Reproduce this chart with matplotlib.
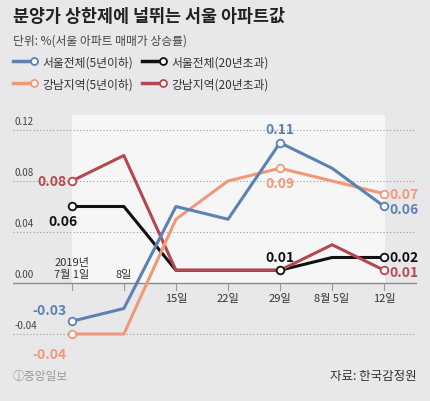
import matplotlib.pyplot as plt

plt.rcParams['font.family'] = ['Noto Sans CJK KR', 'DejaVu Sans']

dates = ["2019년\n7월 1일", "8일", "15일", "22일", "29일", "8월 5일", "12일"]
seoul_new = [-0.03, -0.02, 0.06, 0.05, 0.11, 0.09, 0.06]
seoul_old = [0.06, 0.06, 0.01, 0.01, 0.01, 0.02, 0.02]
gangnam_new = [-0.04, -0.04, 0.05, 0.08, 0.09, 0.08, 0.07]
gangnam_old = [0.08, 0.10, 0.01, 0.01, 0.01, 0.03, 0.01]
yticks = [-0.04, 0.00, 0.04, 0.08, 0.12]

BG = "#e8e8ea"
BLUE, BLACK, ORANGE, RED = "#5b82b0", "#111111", "#f0987a", "#b5474f"

fig = plt.figure(figsize=(4.3, 4.02), dpi=100, facecolor=BG)
ax = fig.add_axes([0.0302, 0.1045, 0.9395, 0.622])
ax.set_facecolor(BG)
x = list(range(len(dates)))
ax.set_xlim(-1.13, 6.63)
ax.set_ylim(-0.0596, 0.1365)
for s in ax.spines.values():
    s.set_visible(False)
ax.set_xticks([])
ax.set_yticks([])

ax.fill_between([0, 6], 0, 0.132, color="#f6f6f7", zorder=0)
for yv in yticks:
    if yv == 0:
        ax.axhline(0, color="#888888", lw=1, zorder=1)
    else:
        ax.axhline(yv, color="#999999", lw=0.8, ls=(0, (1, 2)), zorder=1)
    ax.text(-1.1, yv + 0.003, f"{yv:.2f}", fontsize=7, color="#444444", va="bottom")

for i, d in enumerate(dates):
    ax.plot([i, i], [0, -0.0055], color="#999999", lw=0.8, zorder=1)
    if i < 2:
        ax.text(i, 0.003, d, ha="center", va="bottom", fontsize=8, color="#333333", linespacing=1.3)
    else:
        ax.text(i, -0.008, d, ha="center", va="top", fontsize=8, color="#333333")

series = [(seoul_old, BLACK, [0, 4, 6]), (gangnam_old, RED, [0, 6]),
          (gangnam_new, ORANGE, [0, 4, 6]), (seoul_new, BLUE, [0, 4, 6])]
for vals, c, marks in series:
    ax.plot(x, vals, color=c, lw=2.2, zorder=3)
    ax.plot([x[m] for m in marks], [vals[m] for m in marks], "o", ms=5.5,
            mfc="white", mec=c, mew=1.3, zorder=4, ls="none")

lab = dict(fontsize=10, fontweight="bold")
ax.text(-0.1, seoul_new[0] + 0.006, "-0.03", color=BLUE, ha="right", **lab)
ax.text(-0.1, gangnam_new[0] - 0.01, "-0.04", color=ORANGE, ha="right", va="top", **lab)
ax.text(-0.45, 0.043, "0.06", color=BLACK, va="bottom", **lab)
ax.text(-0.1, gangnam_old[0], "0.08", color=RED, ha="right", va="center", **lab)
ax.text(4, seoul_new[4] + 0.005, "0.11", color=BLUE, ha="center", va="bottom", **lab)
ax.text(4, gangnam_new[4] - 0.006, "0.09", color=ORANGE, ha="center", va="top", **lab)
ax.text(4, seoul_old[4] + 0.005, "0.01", color=BLACK, ha="center", va="bottom", **lab)
ax.text(6.1, gangnam_new[6], "0.07", color=ORANGE, va="center", **lab)
ax.text(6.1, seoul_new[6] - 0.002, "0.06", color=BLUE, va="center", **lab)
ax.text(6.1, seoul_old[6], "0.02", color=BLACK, va="center", **lab)
ax.text(6.1, gangnam_old[6] - 0.001, "0.01", color=RED, va="center", **lab)

fig.text(0.03, 0.945, "분양가 상한제에 널뛰는 서울 아파트값", fontsize=12.5, fontweight="bold", color="#222222")
fig.text(0.03, 0.89, "단위: %(서울 아파트 매매가 상승률)", fontsize=8.5, color="#444444")
legend = [("서울전체(5년이하)", BLUE, 0.03, 0.835), ("서울전체(20년초과)", BLACK, 0.33, 0.835),
          ("강남지역(5년이하)", ORANGE, 0.03, 0.78), ("강남지역(20년초과)", RED, 0.33, 0.78)]
for name, c, lx, ly in legend:
    fig.lines.append(plt.Line2D([lx, lx + 0.045], [ly + 0.012] * 2, color=c, lw=2.5, transform=fig.transFigure))
    fig.lines.append(plt.Line2D([lx + 0.05], [ly + 0.012], marker="o", ms=5, mfc="white", mec=c,
                                mew=1.3, transform=fig.transFigure))
    fig.text(lx + 0.068, ly, name, fontsize=8.5, color="#333333")

fig.text(0.03, 0.055, "ⓙ중앙일보", fontsize=8.5, color="#999999")
fig.text(0.97, 0.055, "자료: 한국감정원", fontsize=9, color="#333333", ha="right")

fig.savefig("out.png", dpi=100, facecolor=BG)
